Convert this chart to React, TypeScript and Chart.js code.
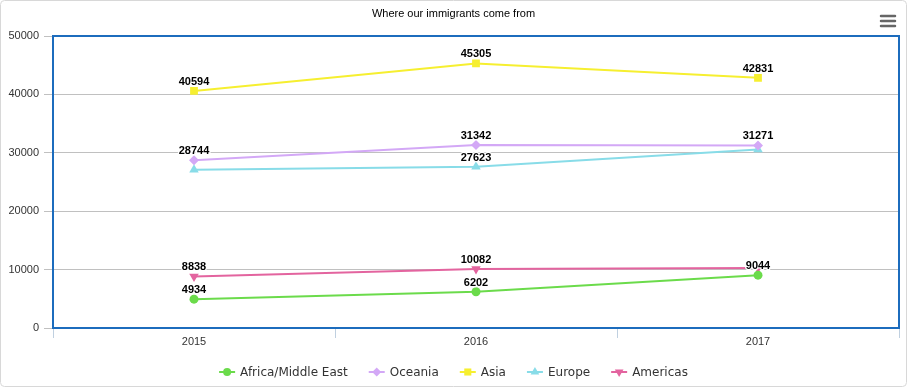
import React, { useEffect, useRef } from 'react';
import { Chart, registerables } from 'chart.js';
import { drawPoint } from 'chart.js/helpers';

Chart.register(...registerables);

const chartTitle = 'Where our immigrants come from';
const categories = ['2015', '2016', '2017'];
const seriesNames = ['Africa/Middle East', 'Oceania', 'Asia', 'Europe', 'Americas'];
const africaValues = [4934, 6202, 9044];
const oceaniaValues = [28744, 31342, 31271];
const asiaValues = [40594, 45305, 42831];
const europeValues = [27100, 27623, 30550];
const americasValues = [8838, 10082, 10280];
const yTickValues = [0, 10000, 20000, 30000, 40000, 50000];

const seriesColors = ['#6BDB4B', '#D3A8F6', '#F6EF30', '#88DCE8', '#E3649F'];
const seriesPointStyles = ['circle', 'rectRot', 'rect', 'triangle', 'triangle'];
const seriesPointRadius = [4.5, 5, 5.5, 5.5, 5.5];
const seriesPointRotation = [0, 0, 0, 0, 180];

const W = 907;
const H = 387;
const LABEL_FONT = '"Liberation Sans", Arial, sans-serif';
const LEGEND_FONT = '"DejaVu Sans", Verdana, sans-serif';

const overlayPlugin = {
  id: 'overlay',
  beforeDatasetsDraw(chart: any) {
    const { ctx, chartArea } = chart;
    ctx.save();
    ctx.strokeStyle = '#1C6CBD';
    ctx.lineWidth = 2;
    ctx.strokeRect(chartArea.left, chartArea.top, chartArea.right - chartArea.left, chartArea.bottom - chartArea.top);
    ctx.restore();
  },
  afterDatasetsDraw(chart: any) {
    const { ctx } = chart;
    ctx.save();
    ctx.font = `bold 11px ${LABEL_FONT}`;
    ctx.textAlign = 'center';
    ctx.textBaseline = 'alphabetic';
    ctx.lineJoin = 'round';
    const boxes: { x1: number; y1: number; x2: number; y2: number }[] = [];
    chart.data.datasets.forEach((ds: any, di: number) => {
      const meta = chart.getDatasetMeta(di);
      meta.data.forEach((pt: any, i: number) => {
        const txt = String(ds.data[i]);
        const w = ctx.measureText(txt).width;
        const bx = { x1: pt.x - w / 2 - 2, x2: pt.x + w / 2 + 2, y1: pt.y - 18, y2: pt.y - 3 };
        const hit = boxes.some((b) => bx.x1 < b.x2 && bx.x2 > b.x1 && bx.y1 < b.y2 && bx.y2 > b.y1);
        if (hit) return;
        boxes.push(bx);
        ctx.strokeStyle = '#FFFFFF';
        ctx.lineWidth = 2.5;
        ctx.strokeText(txt, pt.x, pt.y - 6);
        ctx.fillStyle = '#000000';
        ctx.fillText(txt, pt.x, pt.y - 6);
      });
    });
    ctx.restore();
  },
  afterDraw(chart: any) {
    const { ctx } = chart;
    ctx.save();
    // outer border
    ctx.strokeStyle = '#D8D8D8';
    ctx.lineWidth = 1;
    ctx.beginPath();
    if (ctx.roundRect) ctx.roundRect(0.5, 0.5, W - 1, H - 1, 4);
    else ctx.rect(0.5, 0.5, W - 1, H - 1);
    ctx.stroke();

    // title
    ctx.fillStyle = '#000000';
    ctx.font = `11px ${LABEL_FONT}`;
    ctx.textAlign = 'center';
    ctx.textBaseline = 'middle';
    ctx.fillText(chartTitle, W / 2, 14);

    // menu icon
    ctx.strokeStyle = '#666666';
    ctx.lineWidth = 2.5;
    ctx.lineCap = 'round';
    [16, 21, 26].forEach((y) => {
      ctx.beginPath();
      ctx.moveTo(881, y);
      ctx.lineTo(895, y);
      ctx.stroke();
    });

    // legend
    ctx.font = `12px ${LEGEND_FONT}`;
    ctx.textAlign = 'left';
    ctx.textBaseline = 'middle';
    const symW = 16;
    const gapSym = 5;
    const gapItem = 21;
    const widths = seriesNames.map((n) => ctx.measureText(n).width);
    const total = widths.reduce((a, b) => a + b, 0) + seriesNames.length * (symW + gapSym) + (seriesNames.length - 1) * gapItem;
    let x = W / 2 - total / 2;
    const ly = 372;
    seriesNames.forEach((name, i) => {
      const c = seriesColors[i];
      ctx.strokeStyle = c;
      ctx.fillStyle = c;
      ctx.lineWidth = 2;
      ctx.lineCap = 'butt';
      ctx.beginPath();
      ctx.moveTo(x, ly);
      ctx.lineTo(x + symW, ly);
      ctx.stroke();
      drawPoint(ctx, {
        pointStyle: seriesPointStyles[i] as any,
        radius: seriesPointRadius[i] - 0.5,
        rotation: seriesPointRotation[i],
        borderWidth: 0,
      } as any, x + symW / 2, ly);
      ctx.fillStyle = '#333333';
      ctx.fillText(name, x + symW + gapSym, ly + 0.5);
      x += symW + gapSym + widths[i] + gapItem;
    });
    ctx.restore();
  },
};

export default function App() {
  const ref = useRef<HTMLCanvasElement | null>(null);
  useEffect(() => {
    if (!ref.current) return;
    const allValues = [africaValues, oceaniaValues, asiaValues, europeValues, americasValues];
    const chart = new Chart(ref.current, {
      type: 'line',
      data: {
        labels: categories,
        datasets: seriesNames.map((name, i) => ({
          label: name,
          data: allValues[i],
          borderColor: seriesColors[i],
          backgroundColor: seriesColors[i],
          pointBackgroundColor: seriesColors[i],
          pointBorderColor: seriesColors[i],
          pointBorderWidth: 0,
          pointStyle: seriesPointStyles[i] as any,
          pointRadius: seriesPointRadius[i],
          pointRotation: seriesPointRotation[i],
          borderWidth: 2,
          tension: 0,
          fill: false,
        })),
      },
      options: {
        responsive: false,
        animation: false,
        devicePixelRatio: 1,
        layout: { padding: { top: 36, right: 8, bottom: 35, left: 0 } },
        plugins: {
          legend: { display: false },
          title: { display: false },
          tooltip: { enabled: false },
        },
        scales: {
          x: {
            type: 'category',
            offset: true,
            grid: {
              offset: true,
              drawOnChartArea: false,
              drawTicks: true,
              tickLength: 10,
              color: '#C0D0E0',
            },
            border: { display: true, color: '#C0D0E0' },
            ticks: {
              color: '#333333',
              font: { family: LABEL_FONT, size: 11 },
              padding: -3,
              maxRotation: 0,
            },
            afterFit: (scale: any) => {
              scale.height = 24;
            },
          },
          y: {
            min: 0,
            max: 50000,
            afterBuildTicks: (scale: any) => {
              scale.ticks = yTickValues.map((v) => ({ value: v }));
            },
            grid: {
              color: '#C0C0C0',
              drawTicks: true,
              tickLength: 9,
            },
            border: { display: false },
            ticks: {
              color: '#333333',
              font: { family: LABEL_FONT, size: 11 },
              padding: 5,
              callback: (v: any) => String(v),
            },
            afterFit: (scale: any) => {
              scale.width = 53;
            },
          },
        },
      },
      plugins: [overlayPlugin],
    });
    return () => chart.destroy();
  }, []);
  return (
    <div style={{ position: 'absolute', left: 0, top: 0, width: W, height: H, background: '#fff' }}>
      <canvas ref={ref} width={W} height={H} style={{ display: 'block' }} />
    </div>
  );
}
